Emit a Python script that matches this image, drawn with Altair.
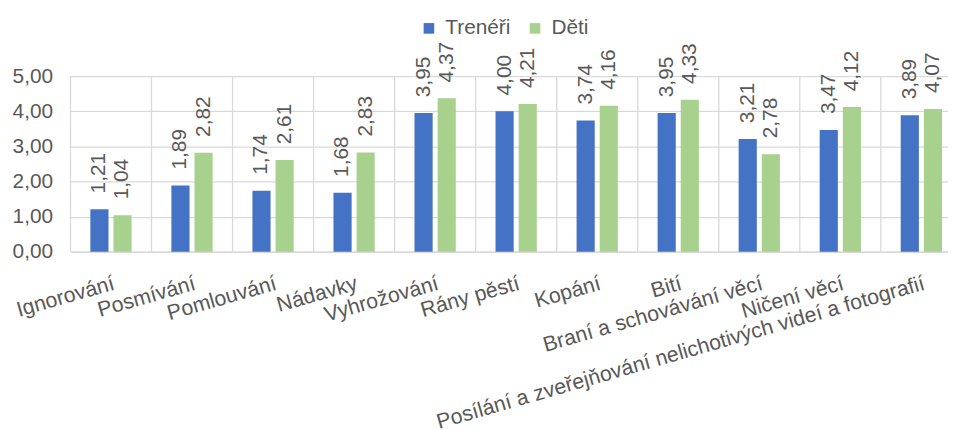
import altair as alt
import pandas as pd

categories = [
    "Ignorování",
    "Posmívání",
    "Pomlouvání",
    "Nádavky",
    "Vyhrožování",
    "Rány pěstí",
    "Kopání",
    "Bití",
    "Braní a schovávání věcí",
    "Ničení věcí",
    "Posílání a zveřejňování nelichotivých videí a fotografií",
]
treneri = [1.21, 1.89, 1.74, 1.68, 3.95, 4.00, 3.74, 3.95, 3.21, 3.47, 3.89]
deti = [1.04, 2.82, 2.61, 2.83, 4.37, 4.21, 4.16, 4.33, 2.78, 4.12, 4.07]
series = ["Trenéři", "Děti"]
colors = ["#4472C4", "#A9D18E"]
y_ticks = [0, 1, 2, 3, 4, 5]

rows = []
for c, t, d in zip(categories, treneri, deti):
    rows.append({"kat": c, "skupina": series[0], "hodnota": t})
    rows.append({"kat": c, "skupina": series[1], "hodnota": d})
df = pd.DataFrame(rows)
grid_df = pd.DataFrame({"kat": categories})

FONT = "Liberation Sans"
GRAY = "#595959"
GRID = "#D9D9D9"
FS = 21

xscale = alt.Scale(domain=categories, paddingInner=0, paddingOuter=0, range=[0, 899])
yscale = alt.Scale(domain=[0, 5], nice=False)
offscale = alt.Scale(domain=series, paddingInner=0.215, paddingOuter=0.86)
yaxis = alt.Axis(
    values=y_ticks,
    tickCount=6,
    labelOverlap=False,
    labelExpr="replace(format(datum.value, '.2f'), '.', ',')",
)

grid = alt.Chart(grid_df).mark_rule(color=GRID, strokeWidth=1.3).encode(
    x=alt.X("kat:N", scale=xscale, sort=categories, bandPosition=0, title=None),
    y=alt.datum(0, scale=yscale, axis=yaxis, title=None),
    y2=alt.datum(5),
)

bars = alt.Chart(df).mark_bar().encode(
    x=alt.X("kat:N", scale=xscale, sort=categories, title=None),
    xOffset=alt.XOffset("skupina:N", scale=offscale, sort=series),
    y=alt.Y("hodnota:Q", scale=yscale, title=None, axis=yaxis),
    color=alt.Color(
        "skupina:N",
        scale=alt.Scale(domain=series, range=colors),
        sort=series,
        legend=alt.Legend(
            orient="none",
            legendX=351,
            legendY=-59,
            direction="horizontal",
            title=None,
            symbolType="square",
            symbolSize=114,
            symbolStrokeWidth=0,
            labelFontSize=FS,
            labelFont=FONT,
            labelColor=GRAY,
            labelOffset=6,
            columnPadding=14,
        ),
    ),
)

labels = alt.Chart(df).transform_calculate(
    label="replace(format(datum.hodnota, '.2f'), '.', ',')"
).mark_text(
    angle=270, align="left", baseline="middle", dx=16,
    fontSize=FS, font=FONT, color=GRAY,
).encode(
    x=alt.X("kat:N", scale=xscale, sort=categories, title=None),
    xOffset=alt.XOffset("skupina:N", scale=offscale, sort=series),
    y=alt.Y("hodnota:Q", scale=yscale, title=None, axis=yaxis),
    text=alt.Text("label:N"),
)

chart = alt.layer(grid, bars, labels).properties(
    width=885,
    height=177,
    autosize=alt.AutoSizeParams(type="none"),
    padding={"left": 63, "top": 67, "right": 0, "bottom": 182},
    background="white",
).configure_view(stroke=None).configure_axisX(
    domain=True, domainColor=GRID, domainWidth=1.3, ticks=False, grid=False,
    labelAngle=344, labelAlign="right", labelBaseline="top", labelPadding=21,
    labelFontSize=21.5, labelColor=GRAY, labelFont=FONT, labelLimit=0,
    labelOverlap=False,
).configure_axisY(
    domain=False, ticks=False, grid=True, gridColor=GRID, gridWidth=1.3,
    labelFontSize=FS, labelColor=GRAY, labelFont=FONT, labelPadding=18,
    labelOverlap=False,
)

chart.save("out.html", embed_options={"renderer": "svg", "actions": False})
